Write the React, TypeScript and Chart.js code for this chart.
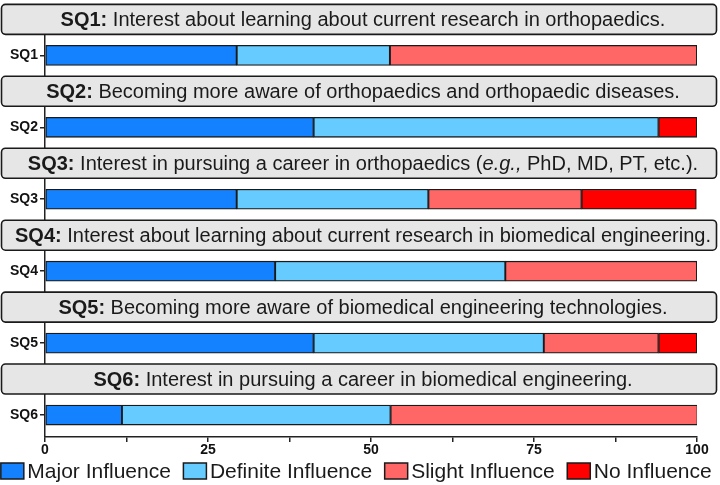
import React, { useEffect, useRef } from "react";
import { Chart, registerables } from "chart.js";

Chart.register(...registerables);

const categories = ["SQ1", "SQ2", "SQ3", "SQ4", "SQ5", "SQ6"];
const titleLeads = ["SQ1:", "SQ2:", "SQ3:", "SQ4:", "SQ5:", "SQ6:"];
const titleTexts = [
  "Interest about learning about current research in orthopaedics.",
  "Becoming more aware of orthopaedics and orthopaedic diseases.",
  "Interest in pursuing a career in orthopaedics (*e.g.,* PhD, MD, PT, etc.).",
  "Interest about learning about current research in biomedical engineering.",
  "Becoming more aware of biomedical engineering technologies.",
  "Interest in pursuing a career in biomedical engineering.",
];
const seriesNames = ["Major Influence", "Definite Influence", "Slight Influence", "No Influence"];
const majorInfluence = [29.4, 41.2, 29.4, 35.3, 41.2, 11.8];
const definiteInfluence = [23.5, 52.9, 29.4, 35.3, 35.3, 41.2];
const slightInfluence = [47.1, 0, 23.5, 29.4, 17.6, 47.1];
const noInfluence = [0, 5.9, 17.6, 0, 5.9, 0];
const xTicks = [0, 12.5, 25, 37.5, 50, 62.5, 75, 87.5, 100];
const colors = ["#1482FF", "#66CCFF", "#FF6666", "#FF0000"];

const FONT = "'Liberation Sans', Arial, sans-serif";

const titleBoxPlugin = {
  id: "titleBoxes",
  afterDraw(chart: any) {
    const ctx = chart.ctx;
    const y = chart.scales.y;
    const W = chart.width;
    ctx.save();
    categories.forEach((_, i) => {
      const cy = y.getPixelForValue(i) - 36;
      const bx = 1.5, bw = W - 5, bh = 30, by = cy - bh / 2;
      ctx.beginPath();
      ctx.roundRect(bx, by, bw, bh, 4);
      ctx.fillStyle = "#E6E6E6";
      ctx.fill();
      ctx.lineWidth = 1.6;
      ctx.strokeStyle = "#1a1a1a";
      ctx.stroke();
      const segs: { t: string; f: string }[] = [];
      segs.push({ t: titleLeads[i] + " ", f: `bold 20px ${FONT}` });
      const parts = titleTexts[i].split("*");
      parts.forEach((p, k) => {
        if (p) segs.push({ t: p, f: `${k % 2 === 1 ? "italic " : ""}20px ${FONT}` });
      });
      let total = 0;
      segs.forEach((s) => {
        ctx.font = s.f;
        total += ctx.measureText(s.t).width;
      });
      const maxW = bw - 14;
      const sx = total > maxW ? maxW / total : 1;
      const cx = bx + bw / 2 + 4;
      ctx.save();
      ctx.translate(cx - (total * sx) / 2, cy + 1);
      ctx.scale(sx, 1);
      let x = 0;
      ctx.textBaseline = "middle";
      ctx.textAlign = "left";
      ctx.fillStyle = "#1a1a1a";
      segs.forEach((s) => {
        ctx.font = s.f;
        ctx.fillText(s.t, x, 0);
        x += ctx.measureText(s.t).width;
      });
      ctx.restore();
    });

    // legend
    ctx.font = `21px ${FONT}`;
    const boxW = 23, boxH = 16, gap = 4, spacing = 12;
    const widths = seriesNames.map((n) => boxW + gap + ctx.measureText(n).width);
    const totalW = widths.reduce((a, b) => a + b, 0) + spacing * (seriesNames.length - 1);
    let lx = (W - totalW) / 2 - 4;
    const ly = chart.height - 14;
    seriesNames.forEach((n, i) => {
      ctx.fillStyle = colors[i];
      ctx.fillRect(lx + 0.5, ly - boxH / 2, boxW, boxH);
      ctx.lineWidth = 1.5;
      ctx.strokeStyle = "#1a1a1a";
      ctx.strokeRect(lx + 0.5, ly - boxH / 2, boxW, boxH);
      ctx.fillStyle = "#1a1a1a";
      ctx.textBaseline = "middle";
      ctx.textAlign = "left";
      ctx.fillText(n, lx + boxW + gap, ly + 1);
      lx += widths[i] + spacing;
    });
    ctx.restore();
  },
};

export default function App() {
  const ref = useRef<HTMLCanvasElement>(null);
  useEffect(() => {
    document.body.style.margin = "0";
    const series = [majorInfluence, definiteInfluence, slightInfluence, noInfluence];
    const chart = new Chart(ref.current!, {
      type: "bar",
      data: {
        datasets: series.map((arr, k) => ({
          label: seriesNames[k],
          data: arr.map((v, i) => ({ x: v, y: i })),
          backgroundColor: colors[k],
          borderColor: "#1a1a1a",
          borderWidth: 1.3,
          borderSkipped: false,
          barThickness: 20,
        })),
      },
      options: {
        indexAxis: "y",
        responsive: false,
        animation: false,
        layout: { padding: { top: 10, right: 23, bottom: 26, left: 0 } },
        plugins: { legend: { display: false }, tooltip: { enabled: false } },
        scales: {
          x: {
            type: "linear",
            stacked: true,
            min: 0,
            max: 100,
            afterBuildTicks: (s: any) => {
              s.ticks = xTicks.map((v) => ({ value: v }));
            },
            afterFit: (s: any) => {
              s.height = 22;
            },
            ticks: {
              autoSkip: false,
              maxRotation: 0,
              padding: 0,
              color: "#111",
              font: { family: FONT, size: 14, weight: "bold" },
              callback: (v: any) => (Number(v) % 25 === 0 ? String(v) : ""),
            },
            grid: { drawOnChartArea: false, drawTicks: true, tickLength: 5, color: "#222", lineWidth: 1.5 },
            border: { display: true, color: "#222", width: 1.5 },
          },
          y: {
            type: "linear",
            stacked: true,
            reverse: true,
            offset: false,
            min: -0.625,
            max: 5.305,
            afterBuildTicks: (s: any) => {
              s.ticks = categories.map((_, i) => ({ value: i }));
            },
            afterFit: (s: any) => {
              s.width = 45;
            },
            ticks: {
              padding: 2,
              color: "#111",
              font: { family: FONT, size: 14, weight: "bold" },
              callback: (v: any) => categories[Number(v)] ?? "",
            },
            grid: { offset: false, drawOnChartArea: false, drawTicks: true, tickLength: 5, color: "#222", lineWidth: 1.5 },
            border: { display: true, color: "#222", width: 1.5 },
          },
        },
      },
      plugins: [titleBoxPlugin],
    } as any);
    return () => chart.destroy();
  }, []);
  return <canvas ref={ref} width={720} height={485} style={{ display: "block" }} />;
}
